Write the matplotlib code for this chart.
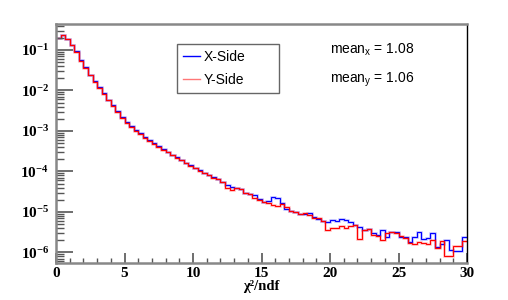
import numpy as np
import matplotlib
matplotlib.use("Agg")
import matplotlib.pyplot as plt

plt.rcParams['mathtext.fontset'] = 'custom'
plt.rcParams['mathtext.rm'] = 'Liberation Serif:bold'
plt.rcParams['mathtext.bf'] = 'Liberation Serif:bold'
plt.rcParams['mathtext.it'] = 'Liberation Serif:italic:bold'
plt.rcParams['mathtext.sf'] = 'Liberation Sans'

# chi2/ndf histogram, 90 bins from 0 to 30
x_lo, x_hi, n_bins = 0, 30, 90

x_side = [
    2.0e-1, 2.3e-1, 1.9e-1, 1.35e-1, 9.3e-2, 5.5e-2, 3.7e-2, 2.45e-2, 1.7e-2, 1.2e-2,
    8.5e-3, 5.9e-3, 4.3e-3, 3.1e-3, 2.2e-3, 1.66e-3, 1.33e-3, 1.07e-3, 8.7e-4, 7.1e-4,
    5.9e-4, 4.97e-4, 4.2e-4, 3.6e-4, 3.06e-4, 2.61e-4, 2.24e-4, 1.92e-4, 1.65e-4, 1.41e-4,
    1.22e-4, 1.07e-4, 9.4e-5, 8.4e-5, 7.45e-5, 6.4e-5, 5.4e-5, 4.64e-5, 4.2e-5, 4.0e-5,
    3.64e-5, 2.9e-5, 2.74e-5, 2.63e-5, 2.06e-5, 1.8e-5, 1.9e-5, 2.35e-5, 2.25e-5, 1.64e-5,
    1.17e-5, 1.08e-5, 1.02e-5, 8.9e-6, 8.7e-6, 9.3e-6, 7.7e-6, 6.6e-6, 6.1e-6, 5.8e-6,
    6.35e-6, 6.0e-6, 6.7e-6, 6.35e-6, 5.7e-6, 4.8e-6, 4.35e-6, 3.6e-6, 3.74e-6, 2.98e-6,
    2.7e-6, 3.6e-6, 2.4e-6, 3.27e-6, 3.27e-6, 2.45e-6, 2.45e-6, 1.85e-6, 2.45e-6, 3.27e-6,
    2.12e-6, 2.24e-6, 2.98e-6, 1.39e-6, 1.62e-6, 2.04e-6, 1.15e-6, 1.11e-6, 1.11e-6, 2.37e-6,
]

y_side = [
    2.0e-1, 2.3e-1, 1.9e-1, 1.3e-1, 9.0e-2, 5.3e-2, 3.6e-2, 2.4e-2, 1.65e-2, 1.16e-2,
    8.2e-3, 5.7e-3, 4.1e-3, 2.9e-3, 2.1e-3, 1.58e-3, 1.27e-3, 1.02e-3, 8.3e-4, 6.9e-4,
    5.7e-4, 4.8e-4, 4.0e-4, 3.4e-4, 2.95e-4, 2.5e-4, 2.15e-4, 1.9e-4, 1.6e-4, 1.37e-4,
    1.2e-4, 1.03e-4, 9.2e-5, 8.2e-5, 6.8e-5, 6.4e-5, 5.6e-5, 3.85e-5, 3.5e-5, 3.85e-5,
    3.64e-5, 2.9e-5, 2.74e-5, 2.18e-5, 1.98e-5, 1.8e-5, 1.64e-5, 1.49e-5, 1.41e-5, 1.58e-5,
    1.31e-5, 1.08e-5, 1.02e-5, 8.9e-6, 9.3e-6, 8.4e-6, 7.0e-6, 7.0e-6, 6.1e-6, 3.6e-6,
    4.0e-6, 3.96e-6, 4.5e-6, 3.96e-6, 4.5e-6, 4.9e-6, 2.18e-6, 3.5e-6, 3.8e-6, 2.63e-6,
    2.55e-6, 2.04e-6, 3.08e-6, 3.27e-6, 2.98e-6, 2.55e-6, 2.24e-6, 1.75e-6, 1.62e-6, 1.85e-6,
    1.69e-6, 1.62e-6, 2.04e-6, 1.27e-6, 1.96e-6, 8.2e-7, 8.2e-7, 1.45e-6, 1.45e-6, 1.96e-6,
]

mean_x = 1.08
mean_y = 1.06

edges = np.linspace(x_lo, x_hi, n_bins + 1)

fig = plt.figure(figsize=(5.08, 3.0), dpi=100)
ax = fig.add_axes([56 / 508, 37 / 300, 411 / 508, 239 / 300])

for vals, col, lab in [(x_side, '#0000ff', 'X-Side'), (y_side, '#ff0000', 'Y-Side')]:
    ax.stairs(vals, edges, baseline=None, color=col, lw=1.8, alpha=0.25)
    ax.stairs(vals, edges, baseline=None, color=col, lw=0.8, label=lab)

ax.set_yscale('log')
ax.set_xlim(x_lo, x_hi)
ax.set_ylim(5.5e-7, 0.438)

# ROOT-like frame
for s in ['left', 'bottom', 'top']:
    ax.spines[s].set_color('#888888')
    ax.spines[s].set_linewidth(1.8)
ax.spines['right'].set_color('black')
ax.spines['right'].set_linewidth(1.0)

ax.set_xticks(np.arange(0, 31, 5))
ax.set_xticks(np.arange(0, 31, 1), minor=True)
ax.tick_params(axis='x', which='major', direction='in', length=7, width=1.2,
               color='#555555', top=False, pad=3)
ax.tick_params(axis='x', which='minor', direction='in', length=3.5, width=1.0,
               color='#555555', top=False)
ax.tick_params(axis='y', which='major', direction='in', length=12, width=1.2,
               color='#555555', right=False, pad=5)
ax.tick_params(axis='y', which='minor', direction='in', length=6, width=1.0,
               color='#555555', right=False)
ax.yaxis.set_major_locator(matplotlib.ticker.LogLocator(base=10))
ax.yaxis.set_minor_locator(matplotlib.ticker.LogLocator(base=10, subs=np.arange(2, 10)))
ax.yaxis.set_minor_formatter(matplotlib.ticker.NullFormatter())
ax.yaxis.set_major_formatter(matplotlib.ticker.FuncFormatter(
    lambda v, p: r'$\mathbf{10^{%d}}$' % round(np.log10(v))))

for lbl in ax.get_xticklabels():
    lbl.set_fontfamily('Liberation Serif')
    lbl.set_fontweight('bold')
    lbl.set_fontsize(11)
ax.tick_params(axis='y', labelsize=11)

ax.set_xlabel('χ²/ndf', fontfamily='Liberation Serif', fontweight='bold',
              fontsize=10.5, labelpad=0)

leg = ax.legend(loc='upper left', bbox_to_anchor=(177 / 508, 1 - 90 / 300, 102 / 508, 46 / 300),
                bbox_transform=fig.transFigure, mode='expand', frameon=True, fancybox=False,
                prop={'family': 'Liberation Sans', 'size': 10}, handlelength=1.2,
                handletextpad=0.3, borderpad=0.45, labelspacing=0.6,
                borderaxespad=0, framealpha=1)
leg.get_frame().set_edgecolor('#666666')
leg.get_frame().set_linewidth(1.0)
for h in leg.get_lines():
    h.set_linewidth(1.0)
leg.get_lines()[1].set_color('#ff7777')

fig.text(330 / 508, 1 - 50 / 300, r'mean$_{\mathsf{x}}$ = %.2f' % mean_x,
         fontfamily='Liberation Sans', fontsize=10, va='center')
fig.text(330 / 508, 1 - 80 / 300, r'mean$_{\mathsf{y}}$ = %.2f' % mean_y,
         fontfamily='Liberation Sans', fontsize=10, va='center')

fig.savefig('out.png', dpi=100)
